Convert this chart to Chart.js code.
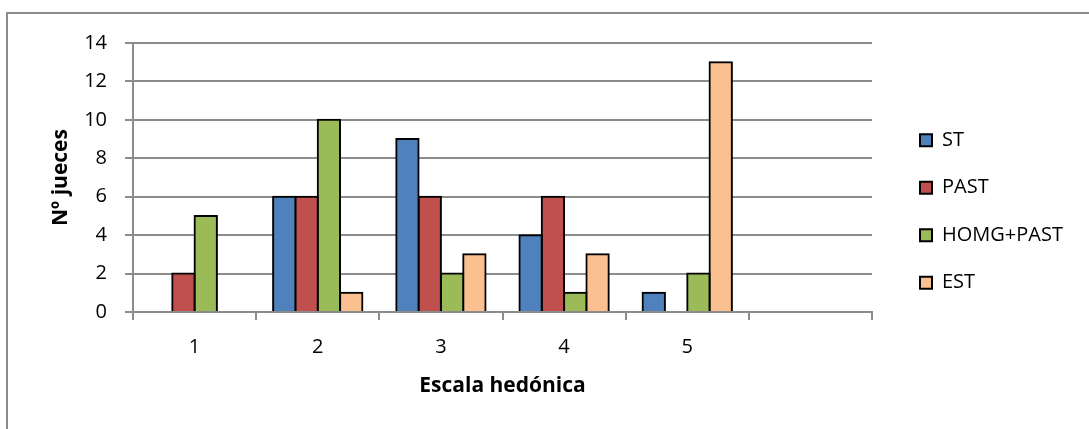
<!DOCTYPE html>
<html>
<head>
<meta charset="utf-8">
<script src="https://cdn.jsdelivr.net/npm/chart.js@4.4.1/dist/chart.umd.min.js"></script>
<style>
  html, body { margin: 0; padding: 0; background: #fff; overflow: hidden; }
  #frame { position: absolute; left: 6px; top: 12px; width: 1200px; height: 600px; border: 2px solid #8c8c8c; }
  #wrap { position: absolute; left: 0; top: 0; width: 1089px; height: 429px; }
</style>
</head>
<body>
<div id="frame"></div>
<div id="wrap"><canvas id="c" width="1089" height="429"></canvas></div>
<script>
// Hedonic scale categories (the last slot is left empty)
const categories = ['1', '2', '3', '4', '5', ''];

// Number of judges per score, one array per sample
const stValues   = [0, 6, 9, 4, 1, null];
const pastValues = [2, 6, 6, 6, 0, null];
const homgValues = [5, 10, 2, 1, 2, null];
const estValues  = [0, 1, 3, 3, 13, null];

const seriesNames = ['ST', 'PAST', 'HOMG+PAST', 'EST'];
const seriesColors = ['#4F81BD', '#C0504D', '#9BBB59', '#FAC090'];

// Y axis ticks
const yMin = 0, yMax = 14, yStep = 2;

const AXIS_GREY = '#8c8c8c';
const FONT = '"Open Sans", Lato, sans-serif';
const TEXT_SIZE = 20;
const TITLE_SIZE = 21;

Chart.defaults.font.family = FONT;
Chart.defaults.font.size = TEXT_SIZE;
Chart.defaults.color = '#000';

// Plot frame geometry (canvas pixels)
const CANVAS_W = 1089;
const PLOT_RIGHT = 872;
const LEGEND_BOX_X = 920;
const LEGEND_BOX = 12;
const LEGEND_PAD = 27.5;

// Legend width follows the widest series name
const mctx = document.createElement('canvas').getContext('2d');
mctx.font = TEXT_SIZE + 'px ' + FONT;
const widestName = Math.max(...seriesNames.map(n => mctx.measureText(n).width));
const legendLeft = LEGEND_BOX_X - LEGEND_PAD;
const legendWidth = LEGEND_PAD + LEGEND_BOX + TEXT_SIZE + widestName;
const rightPad = Math.max(0, CANVAS_W - legendLeft - legendWidth);

const seriesValues = [stValues, pastValues, homgValues, estValues];

const datasets = seriesNames.map((name, i) => ({
  label: name,
  data: seriesValues[i],
  backgroundColor: seriesColors[i],
  borderColor: '#000',
  borderWidth: 2,
  inflateAmount: 1,
  barPercentage: 1,
  categoryPercentage: 0.725
}));

new Chart(document.getElementById('c'), {
  type: 'bar',
  data: { labels: categories, datasets },
  options: {
    responsive: false,
    animation: false,
    devicePixelRatio: 1,
    layout: { padding: { left: 0, top: 0, right: rightPad, bottom: 6 } },
    plugins: {
      tooltip: { enabled: false },
      legend: {
        position: 'right',
        align: 'center',
        maxWidth: 400,
        labels: {
          boxWidth: LEGEND_BOX,
          boxHeight: LEGEND_BOX,
          padding: LEGEND_PAD,
          color: '#000',
          font: { size: TEXT_SIZE }
        }
      }
    },
    scales: {
      x: {
        type: 'category',
        grid: {
          display: true,
          drawOnChartArea: false,
          drawTicks: true,
          tickLength: 8,
          offset: true,
          color: AXIS_GREY,
          lineWidth: 2
        },
        border: { display: true, color: AXIS_GREY, width: 2 },
        ticks: { padding: 15, color: '#000', font: { size: TEXT_SIZE } },
        title: {
          display: true,
          text: 'Escala hedónica',
          color: '#000',
          font: { size: TITLE_SIZE, weight: 'bold' },
          padding: { top: 0, bottom: 24.4 }
        },
        afterFit(scale) { scale.height = 111; }
      },
      y: {
        min: yMin,
        max: yMax,
        ticks: { stepSize: yStep, padding: 18, color: '#000', font: { size: TEXT_SIZE } },
        grid: { color: AXIS_GREY, lineWidth: 2, tickLength: 8 },
        border: { display: true, color: AXIS_GREY, width: 2 },
        title: {
          display: true,
          text: 'Nº jueces',
          color: '#000',
          font: { size: TITLE_SIZE, weight: 'bold' },
          padding: { top: 48.4, bottom: 0 }
        },
        afterFit(scale) { scale.width = 133; }
      },
      // empty band above the plot
      topSpace: {
        type: 'category',
        position: 'top',
        display: true,
        grid: { display: false },
        border: { display: false },
        ticks: { display: false },
        afterFit(scale) { scale.height = 43; }
      },
      // empty band between the plot and the legend
      rightSpace: {
        type: 'linear',
        position: 'right',
        display: true,
        grid: { display: false },
        border: { display: false },
        ticks: { display: false },
        afterFit(scale) { scale.width = legendLeft - PLOT_RIGHT; }
      }
    }
  }
});
</script>
</body>
</html>
